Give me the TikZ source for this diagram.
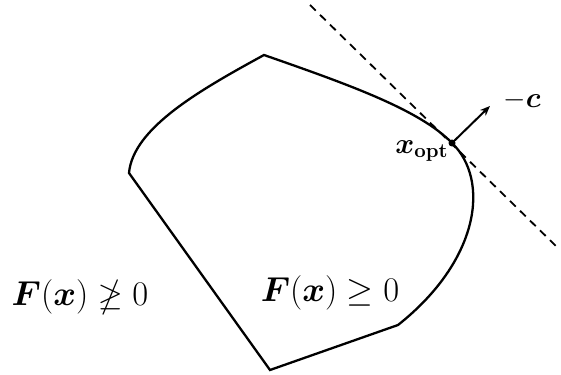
\documentclass[tikz,border=0pt]{standalone}
\usepackage{amsmath,amssymb,bm}
\usetikzlibrary{arrows.meta}
\tikzset{
	boundary/.style={line width=1.15pt, draw=black, line join=miter},
	tangent/.style={line width=0.9pt, draw=black, dash pattern=on 4pt off 3pt},
	normal/.style={-{Stealth[length=5pt, width=4pt]}, line width=1pt},
	region/.style={font=\fontsize{16}{19}\selectfont},
	optpt/.style={circle, fill=black, inner sep=0pt, minimum size=3.5pt},
}

\begin{document}
\begin{tikzpicture}[x=0.5pt, y=-0.5pt]
		\useasboundingbox (0,0) rectangle (561,374);
		\node[optpt] (xopt) at (452,143) {};
		\coordinate (left) at (129,173);
		\coordinate (top) at (264,55);
		\coordinate (right) at (398,325);
		\coordinate (bottom) at (270,370);
		\coordinate (t1) at (310,5);
		\coordinate (t2) at (558,248);
		% feasible set
		\draw[boundary] (left) .. controls (133,128) and (200,90) .. (top)
			.. controls (350,85) and (420,110) .. (xopt.center)
			.. controls (490,180) and (480,260) .. (right)
			-- (bottom) -- cycle;
		\draw[tangent] (t1) -- (t2);
		\node[font=\Large] (c) at (522,100) {$-\bm{c}$};
		\draw[normal] (xopt.center) -- (490,106);
		\node[font=\Large] (xlab) at (422,151) {$\bm{x}_{\mathbf{opt}}$};
		\node[region] (out) at (80,297) {$\bm{F}(\bm{x})\ngeq 0$};
		\node[region] (in) at (330,293) {$\bm{F}(\bm{x})\geq 0$};
	\end{tikzpicture}
\end{document}
